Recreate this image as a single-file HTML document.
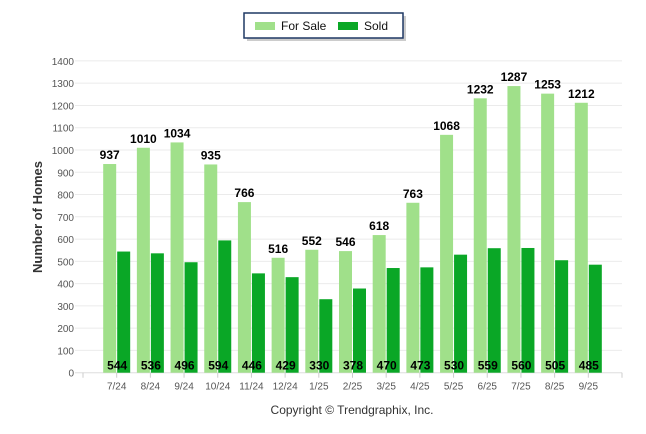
<!DOCTYPE html>
<html><head><meta charset="utf-8"><style>
body{margin:0;background:#fff;}
svg{display:block;font-family:"Liberation Sans",Arial,sans-serif;}
</style></head><body>
<svg id="chart" width="646" height="434">
<g id="grid"></g>
<g id="bars"></g>
<g id="axes"></g>
<text x="42" y="217" transform="rotate(-90 42 217)" text-anchor="middle" font-size="13" font-weight="bold" fill="#333">Number of Homes</text>
<text x="352" y="414" text-anchor="middle" font-size="12" fill="#333">Copyright © Trendgraphix, Inc.</text>
<g>
<rect x="247" y="16" width="159" height="25" fill="#999" opacity="0.5"/>
<rect x="244" y="13" width="159" height="25" fill="#fff" stroke="#1f3864" stroke-width="1.5"/>
<rect x="255" y="22" width="20" height="8" fill="#a0e08a"/>
<text x="281" y="30" font-size="12" fill="#111">For Sale</text>
<rect x="338" y="22" width="20" height="8" fill="#0aa726"/>
<text x="364" y="30" font-size="12" fill="#111">Sold</text>
</g>
</svg>
<script>
const categories=["7/24","8/24","9/24","10/24","11/24","12/24","1/25","2/25","3/25","4/25","5/25","6/25","7/25","8/25","9/25"];
const forSale=[937,1010,1034,935,766,516,552,546,618,763,1068,1232,1287,1253,1212];
const sold=[544,536,496,594,446,429,330,378,470,473,530,559,560,505,485];
const yTicks=[0,100,200,300,400,500,600,700,800,900,1000,1100,1200,1300,1400];
const NS="http://www.w3.org/2000/svg";
const x0=83,x1=622,y0=372.7,yTop=60.9,yMax=1400;
const slot=(x1-x0)/(categories.length+1);
function y(v){return y0-(v/yMax)*(y0-yTop);}
function xc(i){return x0+slot*(i+1);}
function mk(tag,attrs,parent,txt){const e=document.createElementNS(NS,tag);for(const k in attrs)e.setAttribute(k,attrs[k]);if(txt!==undefined)e.textContent=txt;parent.appendChild(e);return e;}
const grid=document.getElementById('grid'),bars=document.getElementById('bars'),axes=document.getElementById('axes');
yTicks.forEach(t=>{
 const l=mk('line',{x1:75,x2:x1,y1:y(t),y2:y(t),stroke:t===0?'#ddd':'#ebebeb','stroke-width':1},grid);
 
 
 const tx=mk('text',{x:74,y:y(t)+4,'text-anchor':'end','font-size':10,fill:'#555'},axes,t);
 
 
});
for(let k=0;k<=categories.length+1;k++){
 const tk=mk('line',{x1:x0+slot*k,x2:x0+slot*k,y1:y0,y2:y0+5,stroke:'#ccc'},axes);
 
 
}
const bw=13;
categories.forEach((c,i)=>{
 const cx=xc(i);
 const b1=mk('rect',{x:cx-bw-0.5,y:y(forSale[i]),width:bw,height:y0-y(forSale[i]),fill:'#a0e08a'},bars);
 
 
 const b2=mk('rect',{x:cx+0.5,y:y(sold[i]),width:bw,height:y0-y(sold[i]),fill:'#0aa726'},bars);
 
 
 const t1=mk('text',{x:cx-bw/2-0.5,y:y(forSale[i])-5,'text-anchor':'middle','font-size':12,'font-weight':'bold',fill:'#000'},bars,forSale[i]);
 
 
 const t2=mk('text',{x:cx+0.5,y:y0-3,'text-anchor':'middle','font-size':12,'font-weight':'bold',fill:'#000'},bars,sold[i]);
 
 
 const xl=mk('text',{x:cx,y:y0+17,'text-anchor':'middle','font-size':10,fill:'#555'},axes,c);
 
 
});
</script>
</body></html>
